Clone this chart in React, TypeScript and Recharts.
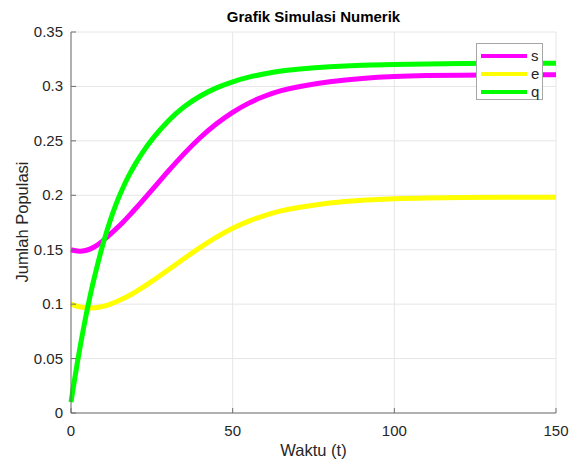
import { LineChart, Line, XAxis, YAxis, CartesianGrid, Legend } from 'recharts';

// waktu (t) and the three populations
const tValues = [0, 1, 2, 3, 4, 5, 6, 7, 8, 9, 10, 12, 14, 16, 18, 20, 22, 25, 30, 35, 40, 45, 50, 55, 60, 65, 70, 80, 90, 100, 110, 120, 135, 150];
const sValues = [0.15, 0.1492, 0.1487, 0.1486, 0.149, 0.1497, 0.1507, 0.1522, 0.154, 0.1561, 0.1585, 0.1638, 0.1693, 0.175, 0.1813, 0.1878, 0.1945, 0.2048, 0.222, 0.2385, 0.2535, 0.266, 0.2765, 0.285, 0.2915, 0.2963, 0.2998, 0.3045, 0.3075, 0.3092, 0.31, 0.3104, 0.3107, 0.3108];
const eValues = [0.1, 0.0989, 0.098, 0.0973, 0.0968, 0.0965, 0.0964, 0.0965, 0.0968, 0.0973, 0.098, 0.0998, 0.1021, 0.1048, 0.1079, 0.1113, 0.115, 0.1208, 0.1313, 0.142, 0.1522, 0.1617, 0.17, 0.1765, 0.1818, 0.1858, 0.1888, 0.1932, 0.1957, 0.197, 0.1976, 0.1979, 0.1981, 0.1982];
const qValues = [0.01, 0.029, 0.047, 0.064, 0.08, 0.095, 0.109, 0.122, 0.134, 0.1455, 0.1565, 0.1762, 0.1928, 0.2068, 0.219, 0.2295, 0.239, 0.2515, 0.2688, 0.2818, 0.2916, 0.299, 0.3045, 0.3087, 0.3118, 0.3142, 0.3159, 0.3183, 0.3196, 0.3203, 0.3207, 0.321, 0.3212, 0.3213];

const xTicks = [0, 50, 100, 150];
const yTicks = [0, 0.05, 0.1, 0.15, 0.2, 0.25, 0.3, 0.35];

const seriesInfo = [
  { key: 's', color: '#ff00ff' },
  { key: 'e', color: '#ffff00' },
  { key: 'q', color: '#00ff00' },
];

const chartData = tValues.map((t, i) => ({ t, s: sValues[i], e: eValues[i], q: qValues[i] }));

const FONT = '"Liberation Sans", Arial, Helvetica, sans-serif';
const TEXT = '#262626';
const AXIS = '#6e6e6e';

function XTick({ x, y, payload }: any) {
  return (
    <g>
      <line x1={x} y1={y} x2={x} y2={y - 5} stroke={AXIS} />
      <text x={x} y={y + 23} textAnchor="middle" fill={TEXT} fontSize={15} fontFamily={FONT}>
        {payload.value}
      </text>
    </g>
  );
}

function YTick({ x, y, payload }: any) {
  return (
    <g>
      <line x1={x} y1={y} x2={x + 5} y2={y} stroke={AXIS} />
      <text x={x - 8} y={y + 5} textAnchor="end" fill={TEXT} fontSize={15} fontFamily={FONT}>
        {payload.value}
      </text>
    </g>
  );
}

function LegendBox() {
  return (
    <div style={{ background: '#fff', border: '1px solid #a6a6a6', width: 67, height: 57, boxSizing: 'border-box', padding: '3px 0 0 4px', fontFamily: FONT, fontSize: 15, color: TEXT }}>
      {seriesInfo.map((s) => (
        <div key={s.key} style={{ display: 'flex', alignItems: 'center', height: 18 }}>
          <div style={{ width: 46, height: 4, background: s.color }} />
          <span style={{ marginLeft: 4, lineHeight: '18px' }}>{s.key}</span>
        </div>
      ))}
    </div>
  );
}

export default function App() {
  return (
    <div style={{ position: 'absolute', left: 0, top: 0, width: 569, height: 461, background: '#fff' }}>
      <LineChart width={569} height={461} data={chartData} margin={{ top: 32, right: 13, bottom: 0, left: 0 }}>
        <CartesianGrid stroke="#e6e6e6" />
        <XAxis
          dataKey="t"
          type="number"
          domain={[0, 150]}
          ticks={xTicks}
          height={48}
          tickSize={0}
          tickMargin={0}
          tickLine={false}
          tick={<XTick />}
          axisLine={{ stroke: AXIS }}
        />
        <YAxis
          type="number"
          domain={[0, 0.35]}
          ticks={yTicks}
          width={71}
          tickSize={0}
          tickMargin={0}
          tickLine={false}
          tick={<YTick />}
          axisLine={{ stroke: AXIS }}
        />
        {seriesInfo.map((s) => (
          <Line
            key={s.key}
            type="basis"
            dataKey={s.key}
            stroke={s.color}
            strokeWidth={5}
            dot={false}
            activeDot={false}
            isAnimationActive={false}
          />
        ))}
        <Legend
          layout="horizontal"
          verticalAlign="middle"
          content={<LegendBox />}
          wrapperStyle={{ position: 'absolute', left: 476, top: 43, width: 67, height: 57 }}
        />
      </LineChart>
      <div style={{ position: 'absolute', left: 71, width: 485, top: 8, textAlign: 'center', fontFamily: FONT, fontWeight: 'bold', fontSize: 15, color: '#000' }}>
        Grafik Simulasi Numerik
      </div>
      <div style={{ position: 'absolute', left: 71, width: 485, top: 441, textAlign: 'center', fontFamily: FONT, fontSize: 16.5, color: TEXT }}>
        Waktu (t)
      </div>
      <div style={{ position: 'absolute', left: 22, top: 222, width: 0, height: 0 }}>
        <div style={{ position: 'absolute', left: -100, top: -10, width: 200, textAlign: 'center', transform: 'rotate(-90deg)', fontFamily: FONT, fontSize: 16.5, lineHeight: '20px', color: TEXT, whiteSpace: 'nowrap' }}>
          Jumlah Populasi
        </div>
      </div>
    </div>
  );
}
